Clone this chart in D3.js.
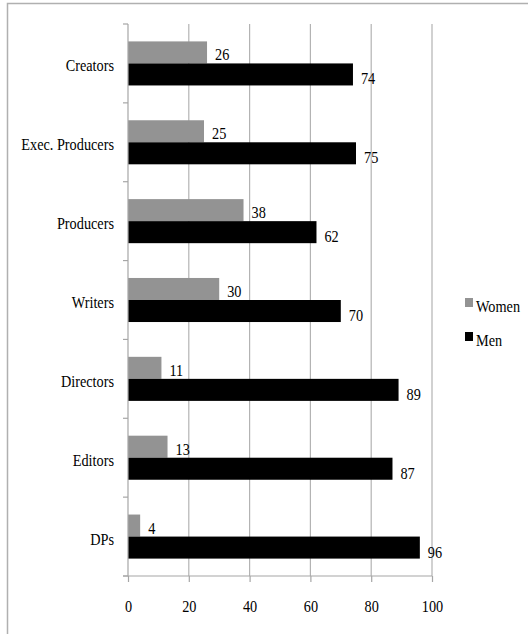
<!DOCTYPE html>
<html>
<head>
<meta charset="utf-8">
<script src="https://cdn.jsdelivr.net/npm/d3@7"></script>
<style>
  body { margin: 0; background: #fff; }
  svg { display: block; font-family: 'Liberation Serif', serif; }
</style>
</head>
<body>
<svg id="chart" width="528" height="634"></svg>
<script>
var categories = ['Creators', 'Exec. Producers', 'Producers', 'Writers', 'Directors', 'Editors', 'DPs'];
var women = [26, 25, 38, 30, 11, 13, 4];
var men = [74, 75, 62, 70, 89, 87, 96];
var seriesNames = ['Women', 'Men'];
var xTicks = [0, 20, 40, 60, 80, 100];

var colors = { Women: '#939393', Men: '#000000' };
var labelDrop = { Women: 8, Men: 10 };
var gridColor = '#b3b3b3', axisColor = '#a6a6a6';
var fontSize = 17, squeeze = 0.84; // narrow serif look

var svg = d3.select('#chart'),
	plotLeft = 128, plotRight = 432, plotTop = 24, plotBottom = 576;

// places a text at (px, py) and narrows it horizontally
function placeText(sel, px, py) {
	sel.attr('x', 0).attr('y', 0)
		.attr('font-size', fontSize)
		.attr('transform', function(d, i) {
			return 'translate(' + px(d, i) + ',' + py(d, i) + ') scale(' + squeeze + ',1)';
		});
}

// chart frame
svg.append('rect')
	.attr('x', 7.5).attr('y', 3.5)
	.attr('width', 540).attr('height', 660)
	.attr('fill', 'none').attr('stroke', '#b0b0b0').attr('stroke-width', 1.5);

var x = d3.scaleLinear().domain([0, 100]).range([plotLeft, plotRight]);
var y = d3.scaleBand().domain(categories).range([plotTop, plotBottom]).padding(0);
var ySub = d3.scaleBand().domain(seriesNames).range([0, y.bandwidth()]).paddingInner(0).paddingOuter(0.79);

// gridlines
svg.append('g').selectAll('line')
	.data(xTicks.slice(1))
	.enter().append('line')
	.attr('x1', function(d) { return x(d); }).attr('x2', function(d) { return x(d); })
	.attr('y1', plotTop).attr('y2', plotBottom)
	.attr('stroke', gridColor).attr('stroke-width', 1.2);

// bars
var rows = categories.map(function(c, i) {
	return { cat: c, values: [{ name: 'Women', v: women[i] }, { name: 'Men', v: men[i] }] };
});

var groups = svg.append('g').selectAll('g')
	.data(rows)
	.enter().append('g')
	.attr('transform', function(d) { return 'translate(0,' + y(d.cat) + ')'; });

groups.selectAll('rect')
	.data(function(d) { return d.values; })
	.enter().append('rect')
	.attr('x', x(0))
	.attr('y', function(d) { return ySub(d.name); })
	.attr('width', function(d) { return x(d.v) - x(0); })
	.attr('height', ySub.bandwidth())
	.attr('fill', function(d) { return colors[d.name]; });

groups.selectAll('text')
	.data(function(d) { return d.values; })
	.enter().append('text')
	.attr('fill', '#000')
	.text(function(d) { return d.v; })
	.call(placeText,
		function(d) { return x(d.v) + 8; },
		function(d) { return ySub(d.name) + ySub.bandwidth() / 2 + labelDrop[d.name]; });

// x axis
var xAxis = d3.axisBottom(x).tickValues(xTicks).tickSize(6).tickPadding(18);
var gx = svg.append('g').attr('transform', 'translate(0,' + plotBottom + ')').call(xAxis);
gx.select('.domain').remove();
gx.append('line').attr('x1', plotLeft - 5).attr('x2', plotRight).attr('stroke', axisColor).attr('stroke-width', 1.2);
gx.selectAll('.tick line').attr('stroke', axisColor).attr('stroke-width', 1.2);
gx.selectAll('.tick text')
	.attr('font-size', fontSize).attr('font-family', 'Liberation Serif').attr('fill', '#000')
	.attr('transform', 'scale(' + squeeze + ',1)');

// y axis
var gy = svg.append('g');
gy.append('line').attr('x1', plotLeft).attr('x2', plotLeft).attr('y1', plotTop).attr('y2', plotBottom)
	.attr('stroke', axisColor).attr('stroke-width', 1.2);
gy.selectAll('.ytick')
	.data(categories.concat(['end']))
	.enter().append('line')
	.attr('class', 'ytick')
	.attr('x1', plotLeft - 5).attr('x2', plotLeft)
	.attr('y1', function(d, i) { return plotTop + i * y.step(); })
	.attr('y2', function(d, i) { return plotTop + i * y.step(); })
	.attr('stroke', axisColor).attr('stroke-width', 1.2);
gy.selectAll('text')
	.data(categories)
	.enter().append('text')
	.attr('dy', '0.35em')
	.attr('text-anchor', 'end')
	.text(function(d) { return d; })
	.call(placeText,
		function() { return plotLeft - 14; },
		function(d) { return y(d) + y.bandwidth() / 2 + 2; });

// legend
var legend = svg.append('g').attr('transform', 'translate(465,298)');
var items = legend.selectAll('g')
	.data(seriesNames)
	.enter().append('g')
	.attr('transform', function(d, i) { return 'translate(0,' + i * 34 + ')'; });
items.append('rect').attr('width', 8).attr('height', 9).attr('fill', function(d) { return colors[d]; });
items.append('text')
	.text(function(d) { return d; })
	.call(placeText, function() { return 11; }, function() { return 14; });
</script>
</body>
</html>
